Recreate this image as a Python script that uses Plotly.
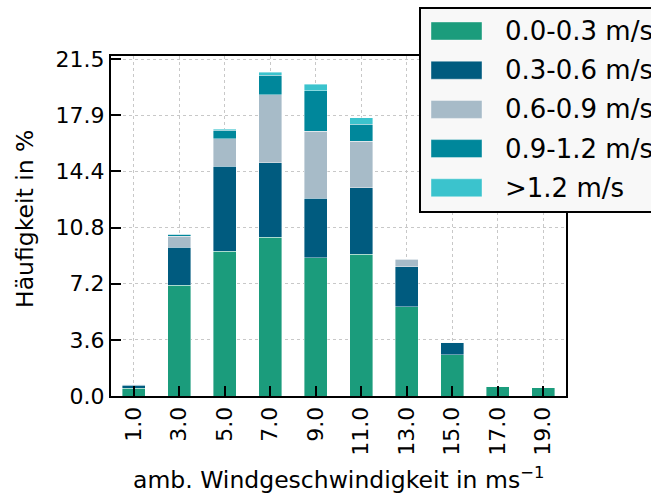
import plotly.graph_objects as go

categories = ["1.0", "3.0", "5.0", "7.0", "9.0", "11.0", "13.0", "15.0", "17.0", "19.0"]
series_names = ["0.0-0.3 m/s", "0.3-0.6 m/s", "0.6-0.9 m/s", "0.9-1.2 m/s", ">1.2 m/s"]
s_00_03 = [0.50, 7.08, 9.25, 10.14, 8.83, 9.06, 5.70, 2.62, 0.62, 0.53]
s_03_06 = [0.20, 2.43, 5.42, 4.75, 3.78, 4.23, 2.55, 0.78, 0.00, 0.00]
s_06_09 = [0.05, 0.70, 1.75, 4.33, 4.28, 2.96, 0.47, 0.03, 0.00, 0.00]
s_09_12 = [0.00, 0.10, 0.55, 1.24, 2.59, 1.10, 0.05, 0.00, 0.00, 0.00]
s_gt_12 = [0.00, 0.02, 0.06, 0.19, 0.42, 0.41, 0.00, 0.00, 0.00, 0.00]
colors = ["#1b9c7c", "#005b7f", "#a7bbc8", "#00879b", "#3bc3cd"]
ytick_vals = [0.0, 3.583, 7.167, 10.75, 14.333, 17.917, 21.5]
ytick_text = ["0.0", "3.6", "7.2", "10.8", "14.4", "17.9", "21.5"]
x_title = "amb. Windgeschwindigkeit in ms<sup>−1</sup>"
y_title = "Häufigkeit in %"

series = [s_00_03, s_03_06, s_06_09, s_09_12, s_gt_12]
xs = list(range(len(categories)))

fig = go.Figure()
for name, vals, col in zip(series_names, series, colors):
    fig.add_trace(go.Bar(
        x=xs, y=vals, name=name, width=0.5,
        marker=dict(color=col, line=dict(color="rgba(255,255,255,0.5)", width=0.8)),
        showlegend=False,
    ))

font = "DejaVu Sans"
fig.update_layout(
    barmode="stack",
    width=651, height=497,
    margin=dict(l=111, r=85, t=56, b=101),
    paper_bgcolor="white", plot_bgcolor="white",
    font=dict(family=font, size=22, color="black"),
    xaxis=dict(
        range=[-0.5, 9.5], tickmode="array", tickvals=xs, ticktext=categories,
        tickangle=-90, ticks="inside", ticklen=10, tickwidth=2, tickcolor="black",
        showline=True, linewidth=2, linecolor="black", mirror=True,
        showgrid=True, gridcolor="#c8c8c8", griddash="dot", gridwidth=1,
        tickfont=dict(size=22), zeroline=False, automargin=False,
    ),
    yaxis=dict(
        range=[0, 21.7], tickmode="array", tickvals=ytick_vals, ticktext=ytick_text,
        ticks="inside", ticklen=10, tickwidth=2, tickcolor="black",
        showline=True, linewidth=2, linecolor="black", mirror=True,
        showgrid=True, gridcolor="#c8c8c8", griddash="dot", gridwidth=1,
        tickfont=dict(size=22), zeroline=False, automargin=False,
    ),
)

pw, ph = 455.0, 340.0
def px_x(p):
    return (p - 111) / pw
def px_y(p):
    return (396 - p) / ph

annotations = [
    dict(xref="paper", yref="paper", x=px_x(338), y=px_y(478), text=x_title,
         showarrow=False, xanchor="center", yanchor="middle",
         font=dict(family=font, size=23.5, color="black")),
    dict(xref="paper", yref="paper", x=px_x(25), y=px_y(219), text=y_title,
         showarrow=False, xanchor="center", yanchor="middle", textangle=-90,
         font=dict(family=font, size=23.5, color="black")),
]

# manual legend (matplotlib style)
shapes = [dict(type="rect", xref="paper", yref="paper",
               x0=px_x(420), x1=px_x(700), y0=px_y(212), y1=px_y(8),
               line=dict(color="black", width=2), fillcolor="#f8f8f8", layer="above")]
row0, dy = 31, 39.2
for i, (name, col) in enumerate(zip(series_names, colors)):
    yc = row0 + i * dy
    shapes.append(dict(type="rect", xref="paper", yref="paper",
                       x0=px_x(431), x1=px_x(482), y0=px_y(yc + 9), y1=px_y(yc - 9),
                       line=dict(color="rgba(255,255,255,0.5)", width=0.8), fillcolor=col, layer="above"))
    annotations.append(dict(xref="paper", yref="paper", x=px_x(503), y=px_y(yc),
                            text=name, showarrow=False, xanchor="left", yanchor="middle",
                            font=dict(family=font, size=26, color="black")))
fig.update_layout(shapes=shapes, annotations=annotations)

fig.write_html("out.html")
